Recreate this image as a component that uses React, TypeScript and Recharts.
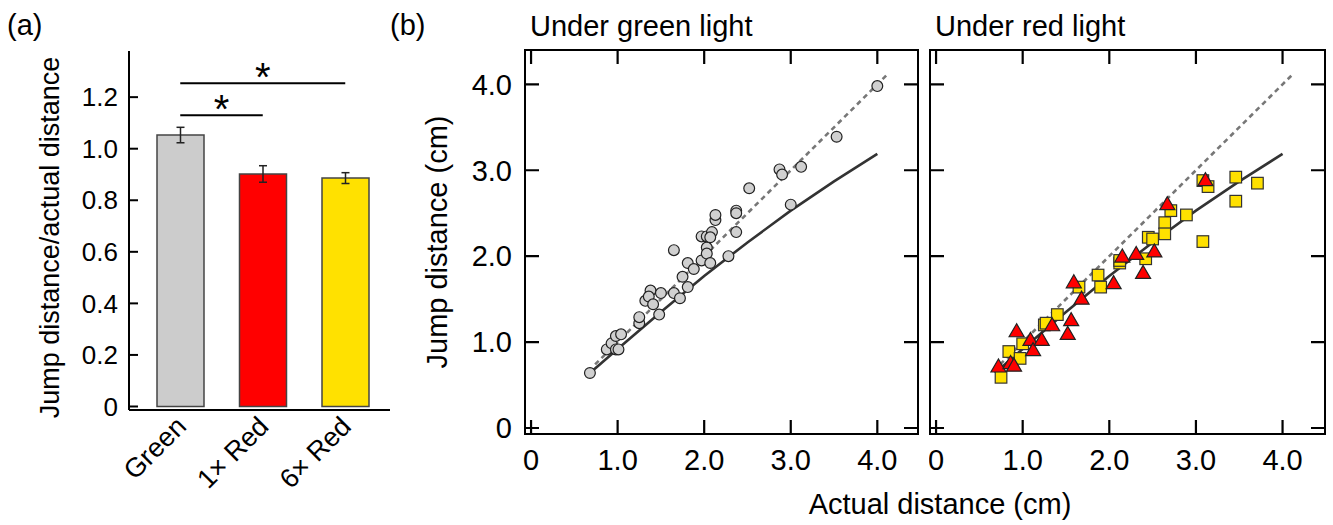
import {
  BarChart, Bar, ErrorBar, XAxis, YAxis, ReferenceLine, ReferenceArea,
  ScatterChart, Scatter,
} from 'recharts';

const FONT = '"Liberation Sans", Arial, sans-serif';

// panel (a)
const groups = ['Green', '1× Red', '6× Red'];
const ratios = [1.053, 0.902, 0.886];
const ratioErr = [0.03, 0.032, 0.021];
const groupColors = ['#cccccc', '#ff0000', '#ffe100'];
const ratioTicks = [0, 0.2, 0.4, 0.6, 0.8, 1.0, 1.2];
// significance brackets: [from, to, height]
const sigLines: [string, string, number][] = [
  ['Green', '6× Red', 1.254],
  ['Green', '1× Red', 1.13],
];

// panel (b)
const distTicks = [0, 1, 2, 3, 4];
const identityX = [0.74, 4.12];
const fitX = [0.68, 1.0, 1.5, 2.0, 2.5, 3.0, 3.5, 4.0];
const fitY = [0.64, 0.92, 1.35, 1.77, 2.16, 2.53, 2.87, 3.19];

const greenX = [0.68, 0.875, 0.93, 0.98, 1.04, 0.98, 1.01, 1.25, 1.25, 1.32, 1.38, 1.36, 1.41, 1.5, 1.48,
  1.65, 1.65, 1.72, 1.75, 1.81, 1.81, 1.88, 1.97, 1.97, 2.03, 2.03, 2.03, 2.07, 2.09, 2.07,
  2.13, 2.13, 2.28, 2.37, 2.37, 2.37, 2.52, 2.87, 2.9, 3.0, 3.12, 3.53, 4.0];
const greenY = [0.64, 0.915, 0.985, 1.07, 1.09, 0.915, 0.915, 1.22, 1.29, 1.48, 1.6, 1.53, 1.44, 1.57, 1.32,
  2.07, 1.57, 1.51, 1.76, 1.64, 1.92, 1.85, 1.95, 2.23, 2.23, 2.1, 2.03, 1.92, 2.28, 2.22,
  2.42, 2.48, 2.0, 2.28, 2.53, 2.5, 2.79, 3.01, 2.95, 2.6, 3.04, 3.39, 3.98];

const sixRedX = [0.75, 0.84, 0.97, 1.0, 1.25, 1.27, 1.4, 1.65, 1.87, 1.9, 2.12, 2.12, 2.42, 2.45, 2.5,
  2.64, 2.64, 2.71, 2.89, 3.08, 3.08, 3.14, 3.46, 3.46, 3.71];
const sixRedY = [0.59, 0.89, 0.81, 0.98, 1.2, 1.22, 1.32, 1.64, 1.78, 1.64, 1.92, 1.95, 1.97, 2.22, 2.2,
  2.39, 2.26, 2.53, 2.48, 2.17, 2.88, 2.81, 2.92, 2.64, 2.85];

const oneRedX = [0.72, 0.86, 0.9, 0.93, 1.09, 1.12, 1.22, 1.34, 1.56, 1.52, 1.59, 1.68, 2.05, 2.15, 2.31,
  2.39, 2.52, 2.67, 3.11];
const oneRedY = [0.71, 0.75, 0.72, 1.12, 1.02, 0.9, 1.02, 1.19, 1.25, 1.09, 1.69, 1.5, 1.68, 1.99, 2.02,
  1.8, 2.05, 2.6, 2.88];

const barData = groups.map((name, i) => ({ name, value: ratios[i], err: ratioErr[i], fill: groupColors[i] }));
const pts = (xs: number[], ys: number[]) => xs.map((x, i) => ({ x, y: ys[i] }));
const greenPts = pts(greenX, greenY);
const sixRedPts = pts(sixRedX, sixRedY);
const oneRedPts = pts(oneRedX, oneRedY);
const fitPts = pts(fitX, fitY);
const identityPts = pts(identityX, identityX);

const fmt = (v: number) => (v === 0 ? '0' : v.toFixed(1));

const CatTick = ({ x, y, payload }: any) => {
  const ax = x + 7.5;
  const ay = y + 18;
  return (
    <text x={ax} y={ay} transform={`rotate(-45 ${ax} ${ay})`} textAnchor="end"
      fontSize={27} fontFamily={FONT} fill="#000">
      {payload.value}
    </text>
  );
};

// inward tick + label for the ratio axis
const RatioTick = ({ x, y, payload }: any) => (
  <g>
    <path d={`M${x},${y}h9`} stroke="#000" strokeWidth={2} fill="none" />
    <text x={x - 11} y={y + 9.2} textAnchor="end" fontSize={26} fontFamily={FONT} fill="#000">
      {fmt(payload.value)}
    </text>
  </g>
);

const Star = ({ viewBox }: any) => (
  <text x={viewBox.x + viewBox.width / 2} y={viewBox.y + 8} textAnchor="middle"
    fontSize={40} fontFamily={FONT} fill="#000">*</text>
);

const Dot = ({ cx, cy }: any) => <circle cx={cx} cy={cy} r={5.4} fill="#d0d0d0" stroke="#222" strokeWidth={1.2} />;
const Sq = ({ cx, cy }: any) => <rect x={cx - 5.8} y={cy - 5.8} width={11.6} height={11.6} fill="#ffe100" stroke="#333" strokeWidth={1.2} />;
const Tri = ({ cx, cy }: any) => (
  <polygon points={`${cx},${cy - 8} ${cx - 7.5},${cy + 5} ${cx + 7.5},${cy + 5}`} fill="#ff0000" stroke="#222" strokeWidth={1.2} />
);
const NoDot = () => <g />;

const TL = 14; // inward tick length in (b)
const PLOT_TOP = 50;

const DistPanel = ({ left, width, axisW, marginRight, domainMax, showY, children }: any) => {
  const plotRight = width - marginRight;
  // bottom tick also mirrors onto the top edge
  const xTick = ({ x, y, payload }: any) => (
    <g>
      <path d={`M${x},${y}v${-TL}M${x},${PLOT_TOP}v${TL}`} stroke="#000" strokeWidth={2.2} fill="none" />
      <text x={x} y={y + 36} textAnchor="middle" fontSize={29} fontFamily={FONT} fill="#000">
        {fmt(payload.value)}
      </text>
    </g>
  );
  // left tick also mirrors onto the right edge
  const yTick = ({ x, y, payload }: any) => (
    <g>
      <path d={`M${x},${y}h${TL}M${plotRight - TL},${y}h${TL}`} stroke="#000" strokeWidth={2.2} fill="none" />
      {showY && (
        <text x={x - 13} y={y + 10.3} textAnchor="end" fontSize={29} fontFamily={FONT} fill="#000">
          {fmt(payload.value)}
        </text>
      )}
    </g>
  );
  return (
    <div style={{ position: 'absolute', left, top: 0 }}>
      <ScatterChart width={width} height={525} margin={{ top: PLOT_TOP, right: marginRight, left: 0, bottom: 0 }}>
        <XAxis type="number" dataKey="x" height={91} domain={[-0.07, domainMax]} ticks={distTicks}
          allowDataOverflow axisLine={false} tickLine={false} tickSize={0} tickMargin={0} tick={xTick} interval={0} />
        <YAxis type="number" dataKey="y" width={axisW} domain={[-0.07, 4.4]} ticks={distTicks}
          allowDataOverflow axisLine={false} tickLine={false} tickSize={0} tickMargin={0} tick={yTick} interval={0}
          label={showY ? {
            content: ({ viewBox }: any) => {
              const lx = viewBox.x + 27;
              return (
                <text x={lx} y={242} transform={`rotate(-90 ${lx} 242)`} textAnchor="middle"
                  fontSize={29} fontFamily={FONT} fill="#000">Jump distance (cm)</text>
              );
            },
          } : undefined} />
        <ReferenceArea x1={-0.07} x2={domainMax} y1={-0.07} y2={4.4} fill="none" fillOpacity={0}
          stroke="#000" strokeWidth={2} ifOverflow="visible" />
        <Scatter data={identityPts} shape={NoDot} isAnimationActive={false}
          line={{ stroke: '#777', strokeWidth: 2.6, strokeDasharray: '5 4' }} />
        <Scatter data={fitPts} shape={NoDot} isAnimationActive={false}
          line={{ stroke: '#333', strokeWidth: 2.6 }} />
        {children}
      </ScatterChart>
    </div>
  );
};

export default function App() {
  return (
    <div style={{ position: 'absolute', left: 0, top: 0, width: 1333, height: 525, background: '#fff', fontFamily: FONT }}>
      <div style={{ position: 'absolute', left: 0, top: 0 }}>
        <BarChart width={400} height={525} data={barData} margin={{ top: 51, right: 10, left: 0, bottom: 0 }}>
          <XAxis dataKey="name" height={115} padding={{ left: 10, right: 3.5 }}
            axisLine={{ stroke: '#000', strokeWidth: 2 }} tickLine={false} tickSize={0} tickMargin={0}
            tick={<CatTick />} interval={0} />
          <YAxis width={129} domain={[-0.0136, 1.379]} ticks={ratioTicks} interval={0}
            allowDataOverflow tickSize={0} tickMargin={0} axisLine={{ stroke: '#000', strokeWidth: 2 }} tickLine={false}
            tick={<RatioTick />}
            label={{
              content: () => (
                <text x={59} y={237.5} transform="rotate(-90 59 237.5)" textAnchor="middle"
                  fontSize={27} fontFamily={FONT} fill="#000">Jump distance/actual distance</text>
              ),
            }} />
          <Bar dataKey="value" barSize={47} stroke="#444" strokeWidth={1.5} isAnimationActive={false}>
            <ErrorBar dataKey="err" width={4} stroke="#222" strokeWidth={1.5} />
          </Bar>
          {sigLines.map(([a, b, h]) => (
            <ReferenceLine key={a + b} segment={[{ x: a, y: h }, { x: b, y: h }]} stroke="#000" strokeWidth={2}
              label={{ content: Star }} />
          ))}
        </BarChart>
      </div>

      <DistPanel left={420} width={510} axisW={105} marginRight={12} domainMax={4.47} showY>
        <Scatter data={greenPts} shape={Dot} isAnimationActive={false} />
      </DistPanel>

      <DistPanel left={929} width={404} axisW={1} marginRight={8} domainMax={4.49} showY={false}>
        <Scatter data={sixRedPts} shape={Sq} isAnimationActive={false} />
        <Scatter data={oneRedPts} shape={Tri} isAnimationActive={false} />
      </DistPanel>

      <svg width={1333} height={525} style={{ position: 'absolute', left: 0, top: 0, pointerEvents: 'none' }}>
        <g fontFamily={FONT} fill="#000">
          <text x={7} y={35} fontSize={29}>(a)</text>
          <text x={390} y={35} fontSize={29}>(b)</text>
          <text x={530} y={36} fontSize={29}>Under green light</text>
          <text x={935} y={36} fontSize={29}>Under red light</text>
          <text x={940} y={514} fontSize={29} textAnchor="middle">Actual distance (cm)</text>
        </g>
      </svg>
    </div>
  );
}
